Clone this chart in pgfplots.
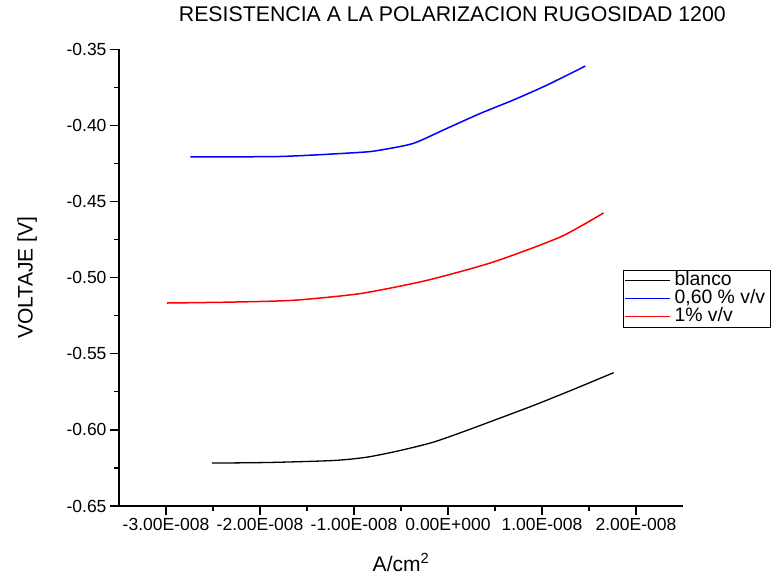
\documentclass[border=0pt]{standalone}
\usepackage{pgfplots}
\pgfplotsset{compat=1.18}
\usepackage{fontspec}
\setmainfont{Liberation Sans}

\begin{document}
\begin{tikzpicture}[font=\fontsize{17.5bp}{20bp}\selectfont]
\useasboundingbox (0,0) rectangle (782bp,576bp);
\begin{axis}[
    at={(119bp,70bp)}, anchor=south west,
    scale only axis,
    width=564bp, height=456.5bp,
    xmin=-3.5e-8, xmax=2.5e-8,
    ymin=-0.65, ymax=-0.35,
    axis x line*=bottom, axis y line*=left,
    axis line style={-, line width=1.3bp},
    tick align=outside,
    major tick length=9bp, minor tick length=5bp,
    every tick/.style={black, line width=1.2bp},
    xtick={-3e-8,-2e-8,-1e-8,0,1e-8,2e-8},
    xticklabels={-3.00E-008,-2.00E-008,-1.00E-008,0.00E+000,1.00E-008,2.00E-008},
    ytick={-0.65,-0.60,-0.55,-0.50,-0.45,-0.40,-0.35},
    yticklabels={-0.65,-0.60,-0.55,-0.50,-0.45,-0.40,-0.35},
    minor x tick num=1, minor y tick num=1,
    scaled x ticks=false,
    title={RESISTENCIA A LA POLARIZACION RUGOSIDAD 1200},
    title style={at={(0.591,1.0646)}, anchor=center, font=\fontsize{21.3bp}{24bp}\selectfont},
    ylabel={VOLTAJE [V]},
    ylabel style={at={(-0.163,0.5)}, anchor=center, font=\fontsize{21bp}{24bp}\selectfont},
    xlabel={A/cm\textsuperscript{2}},
    xlabel style={at={(0.5,-0.124)}, anchor=center, font=\fontsize{21bp}{24bp}\selectfont},
    legend style={at={(0.8936,0.517)}, anchor=north west, draw=black, line width=0.6bp,
        font=\fontsize{19.4bp}{20bp}\selectfont, row sep=0bp, inner sep=1.5bp,
        nodes={text height=12.5bp, text depth=3.5bp, inner ysep=1bp, inner xsep=4bp}},
    legend cell align=left,
    legend image code/.code={\draw[#1, line width=0.8bp] (0bp,0bp) -- (45bp,0bp);},
    clip=false,
]
\addplot[black, line width=1.3bp, smooth, tension=0.4] coordinates {
    (-2.511e-8,-0.6218) (-1.9e-8,-0.6214) (-1.217e-8,-0.6201) (-0.862e-8,-0.6179)
    (-0.507e-8,-0.6135) (-0.153e-8,-0.6080) (0.202e-8,-0.6003) (0.55e-8,-0.5923)
    (0.911e-8,-0.5839) (1.33e-8,-0.5735) (1.762e-8,-0.5624)
};
\addplot[blue, line width=1.5bp, smooth, tension=0.4] coordinates {
    (-2.741e-8,-0.4205) (-1.78e-8,-0.4203) (-0.933e-8,-0.4176) (-0.72e-8,-0.4161)
    (-0.369e-8,-0.4117) (-0.01e-8,-0.4018) (0.344e-8,-0.3920) (0.695e-8,-0.3832)
    (1.053e-8,-0.3734) (1.46e-8,-0.3609)
};
\addplot[red, line width=1.5bp, smooth, tension=0.4] coordinates {
    (-2.99e-8,-0.5166) (-2.3e-8,-0.5160) (-1.643e-8,-0.5148) (-0.933e-8,-0.5104)
    (-0.223e-8,-0.5017) (0.485e-8,-0.4896) (1.195e-8,-0.4732) (1.655e-8,-0.4574)
};
\legend{blanco, {0,60 \% v/v}, 1\% v/v}
\end{axis}
\end{tikzpicture}
\end{document}
